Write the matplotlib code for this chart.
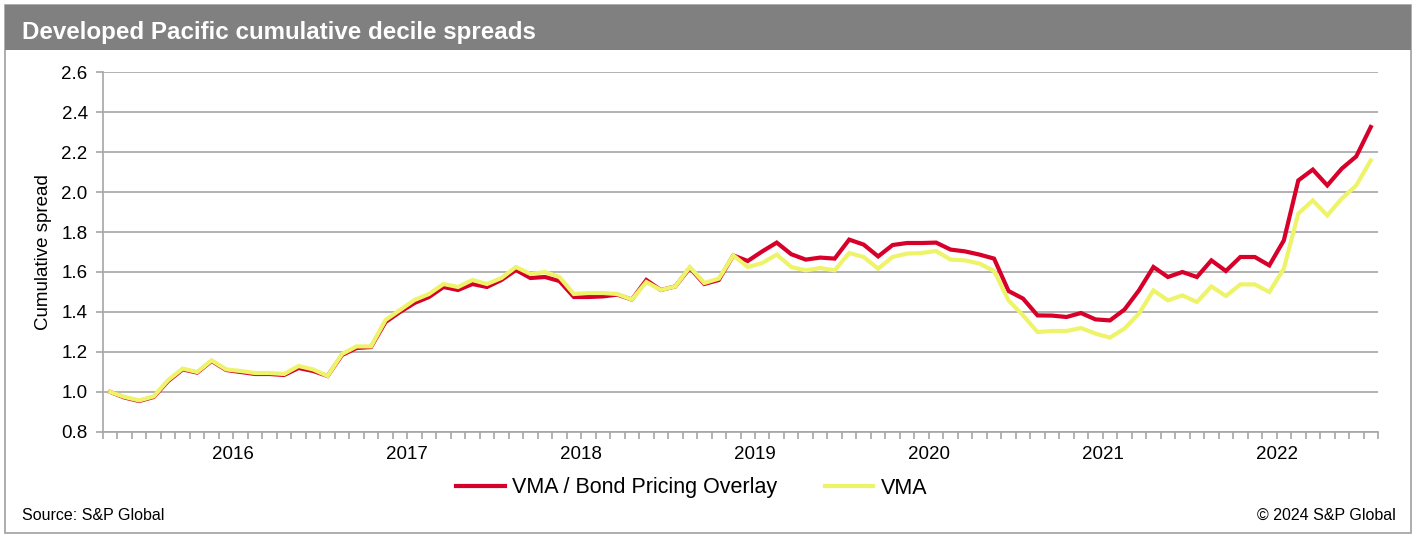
import matplotlib.pyplot as plt
import matplotlib.patches as patches
import numpy as np

plt.rcParams['font.family'] = ['Liberation Sans', 'DejaVu Sans']

# monthly cumulative decile spreads, May 2015 .. Aug 2022
overlay = [1.000, 0.972, 0.955, 0.975, 1.055, 1.113, 1.097, 1.155, 1.110, 1.100,
           1.090, 1.090, 1.085, 1.120, 1.105, 1.080, 1.185, 1.220, 1.225, 1.350,
           1.400, 1.445, 1.475, 1.525, 1.510, 1.540, 1.525, 1.560, 1.610, 1.570,
           1.575, 1.555, 1.475, 1.475, 1.478, 1.487, 1.462, 1.560, 1.510, 1.528,
           1.620, 1.540, 1.560, 1.683, 1.655, 1.703, 1.747, 1.689, 1.662, 1.672,
           1.667, 1.762, 1.737, 1.678, 1.735, 1.745, 1.745, 1.747, 1.712, 1.703,
           1.687, 1.667, 1.505, 1.467, 1.383, 1.382, 1.375, 1.395, 1.363, 1.358,
           1.412, 1.508, 1.625, 1.575, 1.600, 1.575, 1.658, 1.605, 1.675, 1.675,
           1.633, 1.758, 2.058, 2.112, 2.033, 2.117, 2.178, 2.325]

vma = [1.000, 0.975, 0.958, 0.978, 1.060, 1.117, 1.100, 1.158, 1.113, 1.105,
       1.095, 1.095, 1.090, 1.130, 1.113, 1.080, 1.190, 1.228, 1.228, 1.360,
       1.410, 1.460, 1.490, 1.540, 1.525, 1.560, 1.540, 1.570, 1.625, 1.590,
       1.600, 1.575, 1.490, 1.495, 1.495, 1.490, 1.462, 1.550, 1.510, 1.528,
       1.625, 1.545, 1.567, 1.683, 1.625, 1.645, 1.687, 1.625, 1.608, 1.620,
       1.608, 1.695, 1.675, 1.617, 1.675, 1.692, 1.695, 1.705, 1.662, 1.658,
       1.642, 1.605, 1.458, 1.383, 1.300, 1.305, 1.305, 1.320, 1.292, 1.272,
       1.317, 1.392, 1.508, 1.458, 1.483, 1.450, 1.528, 1.480, 1.538, 1.538,
       1.500, 1.617, 1.892, 1.958, 1.883, 1.967, 2.033, 2.158]

years = ['2016', '2017', '2018', '2019', '2020', '2021', '2022']
first_year_boundary = 9  # month boundary where the first year label sits

red = '#D6002A'
yellow = '#EEF46A'
grey = '#A6A6A6'

W, H = 1416, 538
fig = plt.figure(figsize=(W / 100, H / 100), dpi=100)

# outer frame and title band
fig.patches.append(patches.Rectangle((5 / W, 1 - 533 / H), 1406 / W, 528 / H,
                                     transform=fig.transFigure, fill=False,
                                     edgecolor='#A0A0A0', linewidth=1.2))
fig.patches.append(patches.Rectangle((5 / W, 1 - 50 / H), 1406 / W, 45 / H,
                                     transform=fig.transFigure, facecolor='#808080',
                                     edgecolor='none'))
fig.text(22 / W, 1 - 32 / H, 'Developed Pacific cumulative decile spreads',
         color='white', fontsize=17.4, fontweight='bold', va='center', ha='left')

ax = fig.add_axes([103 / W, 1 - 432 / H, 1275 / W, 360 / H])
x = np.arange(len(overlay))
ax.plot(x, overlay, color=red, linewidth=3, label='VMA / Bond Pricing Overlay',
        solid_joinstyle='miter')
ax.plot(x, vma, color=yellow, linewidth=3, label='VMA', solid_joinstyle='miter')

ax.set_xlim(-0.5, len(overlay) - 0.5)
ax.set_ylim(0.8, 2.6)
ax.set_yticks(np.arange(0.8, 2.61, 0.2))
ax.set_yticklabels(['%.1f' % v for v in np.arange(0.8, 2.61, 0.2)])
ax.yaxis.grid(True, color=grey, linewidth=1.2)
ax.set_axisbelow(True)

ax.set_xticks(np.arange(len(overlay) + 1) - 0.5, minor=True)
ax.set_xticks([first_year_boundary - 0.5 + 12 * k for k in range(len(years))])
ax.set_xticklabels(years)
ax.tick_params(axis='x', which='both', length=5, color=grey, width=1.2,
               labelsize=13.5, pad=5)
ax.tick_params(axis='y', length=5, color=grey, width=1.2, labelsize=13.5, pad=6)

for s in ['top', 'right']:
    ax.spines[s].set_visible(False)
for s in ['left', 'bottom']:
    ax.spines[s].set_color(grey)
    ax.spines[s].set_linewidth(1.2)

ax.set_ylabel('Cumulative spread', fontsize=13.5, labelpad=7)

fig.legend(loc='center', bbox_to_anchor=(692 / W, 1 - 488 / H), ncol=2,
           frameon=False, fontsize=15.5, handlelength=2.25, handletextpad=0.35,
           columnspacing=2.2)

fig.text(22 / W, 1 - 515 / H, 'Source: S&P Global', fontsize=11.5,
         va='center', ha='left')
fig.text(1396 / W, 1 - 515 / H, '\u00a9 2024 S&P Global', fontsize=11.5,
         va='center', ha='right')

fig.savefig('out.png', dpi=100)
